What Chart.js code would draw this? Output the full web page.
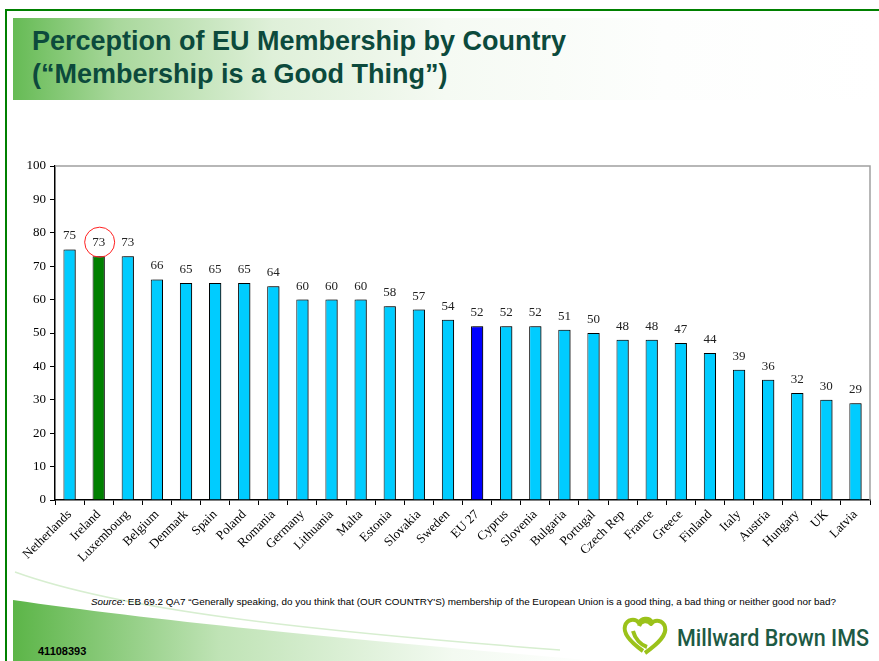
<!DOCTYPE html>
<html>
<head>
<meta charset="utf-8">
<script src="https://cdn.jsdelivr.net/npm/chart.js@4.4.0/dist/chart.umd.min.js"></script>
<style>
    html, body { margin: 0; padding: 0; background: #fff; }
    body { width: 879px; height: 661px; position: relative; overflow: hidden; font-family: "Liberation Sans", Arial, sans-serif; }
    .frame-top { position: absolute; left: 5px; top: 9px; width: 874px; height: 2px; background: #008000; }
    .frame-left { position: absolute; left: 5px; top: 9px; width: 2px; height: 652px; background: #008000; }
    .title-band { position: absolute; left: 13px; top: 18px; width: 866px; height: 82px;
        background: linear-gradient(to right, #66bb55 0%, #a9d89c 12%, #dff0d9 30%, #f5faf3 50%, #fdfefd 75%, #fff 100%); }
    .title { position: absolute; left: 32px; top: 25px; font-weight: bold; font-size: 27px; line-height: 33px; color: #0c4a3c; }
    #chartWrap { position: absolute; left: 0; top: 150px; width: 879px; height: 440px; }
    .source { position: absolute; left: 0; width: 879px; top: 596px; text-align: center; font-size: 9.9px; color: #000; padding-left: 48px; box-sizing: border-box; white-space: nowrap; }
    .code { position: absolute; left: 38px; top: 645px; font-weight: bold; font-size: 11px; color: #000; }
    svg.deco { position: absolute; left: 0; top: 0; }
</style>
</head>
<body>
<svg class="deco" width="879" height="661">
    <defs>
        <linearGradient id="swoosh" x1="0" y1="0" x2="1" y2="0">
            <stop offset="0" stop-color="#5cb548"/>
            <stop offset="0.35" stop-color="#bfe3b5"/>
            <stop offset="0.75" stop-color="#f3faf1"/>
            <stop offset="1" stop-color="#ffffff"/>
        </linearGradient>
    </defs>
    <path d="M13,600 C150,620 350,640 600,661 L13,661 Z" fill="url(#swoosh)"/>
    <path d="M15,572 C120,610 300,630 560,650" stroke="#d7eed0" stroke-width="1.5" fill="none"/>
    <g transform="translate(621,617)" fill="none" stroke="#9bc21a" stroke-width="4" stroke-linejoin="round">
        <path d="M22,34 C8,24 2,16 4,9 C6,2 14,1 18,6 C20,1 28,0 31,5"/>
        <path d="M24,36 C38,26 46,18 44,10 C42,3 34,2 30,7 C27,3 20,3 18,9"/>
        <path d="M12,14 C14,22 20,28 26,30"/>
    </g>
    <text x="677" y="646" font-family="Roboto, 'Open Sans', sans-serif" font-weight="500" font-size="23" fill="#1d5a44" textLength="192" lengthAdjust="spacingAndGlyphs">Millward Brown IMS</text>
</svg>
<div class="frame-top"></div>
<div class="frame-left"></div>
<div class="title-band"></div>
<div class="title">Perception of EU Membership by Country<br>(“Membership is a Good Thing”)</div>
<div id="chartWrap"><canvas id="euChart" width="879" height="440"></canvas></div>
<div class="source"><i>Source:</i> EB 69.2 QA7 “Generally speaking, do you think that (OUR COUNTRY'S) membership of the European Union is a good thing, a bad thing or neither good nor bad?</div>
<div class="code">41108393</div>

<script>
// Data
const countries = ['Netherlands', 'Ireland', 'Luxembourg', 'Belgium', 'Denmark', 'Spain', 'Poland',
    'Romania', 'Germany', 'Lithuania', 'Malta', 'Estonia', 'Slovakia', 'Sweden', 'EU 27', 'Cyprus',
    'Slovenia', 'Bulgaria', 'Portugal', 'Czech Rep', 'France', 'Greece', 'Finland', 'Italy', 'Austria',
    'Hungary', 'UK', 'Latvia'];
const goodThing = [75, 73, 73, 66, 65, 65, 65, 64, 60, 60, 60, 58, 57, 54, 52, 52, 52, 51, 50, 48, 48,
    47, 44, 39, 36, 32, 30, 29];
const yTicks = [0, 10, 20, 30, 40, 50, 60, 70, 80, 90, 100];
const highlighted = 'Ireland';
const average = 'EU 27';

const barColors = countries.map(c => c === highlighted ? '#008000' : (c === average ? '#0000ff' : '#00ccff'));
const serif = '"Liberation Serif", "Times New Roman", serif';

// Value labels, circle around the highlighted value, grey plot frame
const decorations = {
    id: 'decorations',
    beforeDatasetsDraw(chart) {
        const ctx = chart.ctx;
        ctx.save();
        ctx.shadowColor = 'rgba(0,0,0,0.45)';
        ctx.shadowOffsetX = 2;
        ctx.shadowOffsetY = 0;
        ctx.shadowBlur = 0;
    },
    afterDatasetsDraw(chart) {
        const ctx = chart.ctx;
        ctx.restore();
        const area = chart.chartArea;
        ctx.save();
        ctx.strokeStyle = '#a0a0a0';
        ctx.lineWidth = 1.5;
        ctx.beginPath();
        ctx.moveTo(area.left, area.top);
        ctx.lineTo(area.right, area.top);
        ctx.lineTo(area.right, area.bottom);
        ctx.stroke();

        const meta = chart.getDatasetMeta(0);
        ctx.fillStyle = '#222';
        ctx.font = '13px ' + serif;
        ctx.textAlign = 'center';
        ctx.textBaseline = 'bottom';
        meta.data.forEach((bar, i) => {
            ctx.fillText(goodThing[i], bar.x, bar.y - 7);
            if (countries[i] === highlighted) {
                ctx.strokeStyle = '#ff2020';
                ctx.lineWidth = 1;
                ctx.beginPath();
                ctx.arc(bar.x + 1, bar.y - 14, 15, 0, Math.PI * 2);
                ctx.stroke();
            }
        });
        ctx.restore();
    }
};

new Chart(document.getElementById('euChart'), {
    type: 'bar',
    data: {
        labels: countries,
        datasets: [{
            data: goodThing,
            backgroundColor: barColors,
            borderColor: '#000',
            borderWidth: 1,
            barPercentage: 0.42,
            categoryPercentage: 1
        }]
    },
    options: {
        responsive: false,
        animation: false,
        layout: { padding: { top: 16, right: 9, left: 0, bottom: 0 } },
        plugins: {
            legend: { display: false },
            tooltip: { enabled: false }
        },
        scales: {
            x: {
                offset: true,
                grid: { display: true, drawOnChartArea: false, offset: true, color: '#000', tickLength: 5 },
                border: { color: '#000', width: 1.5 },
                ticks: {
                    autoSkip: false,
                    maxRotation: 45,
                    minRotation: 45,
                    color: '#000',
                    padding: 2,
                    font: { family: serif, size: 13 }
                },
                afterFit(scale) { scale.height = 90; }
            },
            y: {
                min: 0,
                max: 100,
                afterBuildTicks(scale) { scale.ticks = yTicks.map(v => ({ value: v })); },
                grid: { display: true, drawOnChartArea: false, color: '#000', tickLength: 5 },
                border: { color: '#000', width: 1.5 },
                ticks: {
                    color: '#000',
                    padding: 4,
                    font: { family: serif, size: 13 }
                },
                afterFit(scale) { scale.width = 55; }
            }
        }
    },
    plugins: [decorations]
});
</script>
</body>
</html>
